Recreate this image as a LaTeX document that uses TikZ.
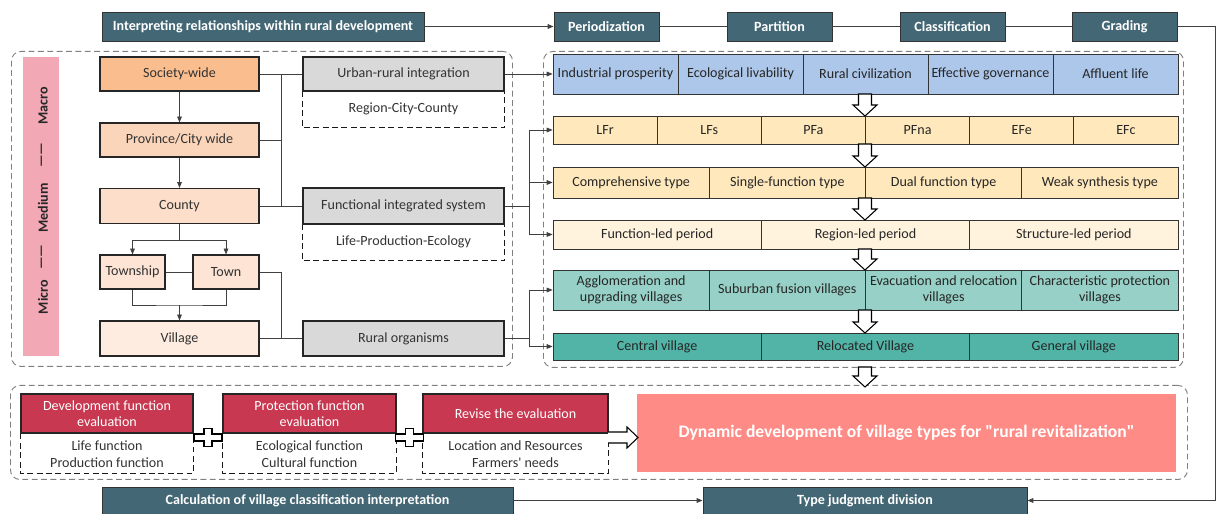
\documentclass[tikz,border=0pt]{standalone}
\usepackage{fontspec}
\setmainfont{Carlito}[Ligatures=TeXOff]
\usetikzlibrary{arrows.meta,positioning,calc}

\definecolor{hdrcol}{RGB}{68,103,117}
\definecolor{socfill}{RGB}{249,189,142}
\definecolor{provfill}{RGB}{251,213,185}
\definecolor{cntyfill}{RGB}{252,222,202}
\definecolor{twnfill}{RGB}{253,228,212}
\definecolor{villfill}{RGB}{254,236,225}
\definecolor{grayfill}{RGB}{217,217,217}
\definecolor{stripfill}{RGB}{242,168,181}
\definecolor{rowblue}{RGB}{172,199,234}
\definecolor{roworange}{RGB}{255,233,188}
\definecolor{rowcream}{RGB}{255,243,222}
\definecolor{rowteal}{RGB}{150,208,198}
\definecolor{rowdteal}{RGB}{82,180,166}
\definecolor{evalred}{RGB}{200,56,80}
\definecolor{salmon}{RGB}{255,139,134}

% hollow block arrow pointing down: x, y top, y tip
\newcommand{\downarr}[3]{%
  \draw[black, line width=0.9pt, fill=white] (#1-6.5,#2) -- (#1+6.5,#2) -- (#1+6.5,#3-11)
    -- (#1+12,#3-11) -- (#1,#3) -- (#1-12,#3-11) -- (#1-6.5,#3-11) -- cycle;}
% hollow plus sign: centre x, centre y
\newcommand{\plussign}[2]{%
  \draw[black, line width=1pt, fill=white] (#1-14,#2-3.5) -- (#1-4,#2-3.5) -- (#1-4,#2-9)
    -- (#1+4,#2-9) -- (#1+4,#2-3.5) -- (#1+14,#2-3.5) -- (#1+14,#2+3.5) -- (#1+4,#2+3.5)
    -- (#1+4,#2+9) -- (#1-4,#2+9) -- (#1-4,#2+3.5) -- (#1-14,#2+3.5) -- cycle;}

\begin{document}
\begin{tikzpicture}[x=0.03cm, y=-0.03cm,
  >={Triangle[length=5pt,width=4pt]},
  wh/.style 2 args={minimum width=#1*0.03cm, minimum height=#2*0.03cm},
  hdr/.style={draw=black!80, line width=0.8pt, fill=hdrcol, text=white, inner sep=0pt,
              font=\bfseries\fontsize{12}{14}\selectfont},
  lbox/.style={draw=black!85, line width=1pt, inner sep=0pt, align=center, text=black!80,
               font=\fontsize{12}{14}\selectfont},
  cell/.style={draw=black!80, line width=0.7pt, inner sep=0pt, align=center, text=black!85,
               font=\fontsize{12}{13.5}\selectfont},
  grp/.style={draw=black!50, line width=0.8pt, dash pattern=on 5pt off 3pt,
              rounded corners=8pt, inner sep=0pt},
  sub/.style={draw=black!90, line width=1.1pt, dash pattern=on 5pt off 3pt},
  txt/.style={inner sep=0pt, align=center, text=black!80, font=\fontsize{12}{14}\selectfont},
  lvl/.style={rotate=90, inner sep=0pt, text=black!85, font=\bfseries\fontsize{12}{13}\selectfont},
  link/.style={draw=black!75, line width=0.7pt}
]
  \useasboundingbox (0,0) rectangle (1218,514);

  % dashed groups
  \node[grp, wh={501}{315}, anchor=north west] (leftgrp)  at (11,51)  {};
  \node[grp, wh={640}{316}, anchor=north west] (rightgrp) at (543,51) {};
  \node[grp, wh={1177}{94}, anchor=north west] (botgrp)   at (10,385) {};

  % top row
  \node[hdr, wh={322}{29}] (interp) at (263,26.5)    {Interpreting relationships within rural development};
  \node[hdr, wh={105}{29}] (period) at (606.5,26.5)  {Periodization};
  \node[hdr, wh={105}{29}] (part)   at (779.5,26.5)  {Partition};
  \node[hdr, wh={105}{29}] (clas)   at (952.5,26.5)  {Classification};
  \node[hdr, wh={105}{29}] (grad)   at (1124.5,26.5) {Grading};

  % bottom row
  \node[hdr, wh={411}{27}] (calc)  at (307.5,500.5) {Calculation of village classification interpretation};
  \node[hdr, wh={324}{27}] (typej) at (865,500.5)   {Type judgment division};

  \draw[link,->] (interp) -- (period);
  \draw[link] (period) -- (part) (part) -- (clas) (clas) -- (grad);
  \coordinate (rt) at (1215,26.5);
  \draw[link,->] (grad.east) -- (rt) |- (typej.east);
  \draw[link,->] (calc) -- (typej);

  % level strip
  \node[fill=stripfill, wh={36}{299}] (strip) at (41,206.5) {};
  \node[lvl] (lvmacro) at (43,106) {Macro};
  \node[lvl] (lvd1)    at (43,155) {——};
  \node[lvl] (lvmed)   at (43,208) {Medium};
  \node[lvl] (lvd2)    at (43,257) {——};
  \node[lvl] (lvmicro) at (43,297) {Micro};

  % spatial scales
  \node[lbox, fill=socfill,  wh={159}{34}] (soc)  at (179.5,74)  {Society-wide};
  \node[lbox, fill=provfill, wh={159}{34}] (prov) at (179.5,140) {Province/City wide};
  \node[lbox, fill=cntyfill, wh={159}{35}] (cnty) at (179.5,206) {County};
  \node[lbox, fill=twnfill,  wh={65}{34}]  (twp)  at (132.5,272) {Township};
  \node[lbox, fill=twnfill,  wh={66}{34}]  (town) at (226,272)   {Town};
  \node[lbox, fill=villfill, wh={159}{35}] (vill) at (179.5,338.5) {Village};

  \draw[link,->] (soc) -- (prov);
  \draw[link,->] (prov) -- (cnty);
  \coordinate (sp) at (179.5,240);
  \draw[link] (cnty.south) -- (sp);
  \draw[link,->] (sp) -| (twp.north);
  \draw[link,->] (sp) -| (town.north);
  \draw[link] (twp) -- (town);
  \coordinate (jn) at (179.5,305);
  \draw[link] (twp.south) |- (jn) -| (town.south);
  \draw[link,->] (jn) -- (vill.north);

  % systems
  \node[lbox, fill=grayfill, wh={201}{34}] (urb)   at (403.5,74)    {Urban-rural integration};
  \node[lbox, fill=grayfill, wh={201}{36}] (func)  at (403.5,206)   {Functional integrated system};
  \node[lbox, fill=grayfill, wh={201}{35}] (rural) at (403.5,338.5) {Rural organisms};
  \draw[sub] (urb.south west) -- ++(0,36) -| (urb.south east);
  \node[txt] (urbsub) at (403.5,109) {Region-City-County};
  \draw[sub] (func.south west) -- ++(0,36) -| (func.south east);
  \node[txt] (funcsub) at (403.5,242) {Life-Production-Ecology};

  \coordinate (bus) at (281,74);
  \draw[link] (soc.east) -- (urb.west);
  \draw[link] (prov.east) -- (prov.east -| bus);
  \draw[link] (bus) -- (bus |- cnty.east);
  \draw[link] (cnty.east) -- (func.west);
  \draw[link] (town.east) -| (bus |- vill.east);
  \draw[link] (vill.east) -- (rural.west);

  % rows on the right
  \foreach \t [count=\i] in {Industrial prosperity, Ecological livability, Rural civilization,
                            Effective governance, Affluent life}
    \node[cell, fill=rowblue, wh={125}{40}] (r1c\i) at ({553+125*(\i-0.5)},74) {\t};
  \foreach \t [count=\i] in {LFr, LFs, PFa, PFna, EFe, EFc}
    \node[cell, fill=roworange, wh={625/6}{28}] (r2c\i) at ({553+625/6*(\i-0.5)},130) {\t};
  \foreach \t [count=\i] in {Comprehensive type, Single-function type, Dual function type,
                            Weak synthesis type}
    \node[cell, fill=roworange, wh={156.25}{31}] (r3c\i) at ({553+156.25*(\i-0.5)},182.5) {\t};
  \foreach \t [count=\i] in {Function-led period, Region-led period, Structure-led period}
    \node[cell, fill=rowcream, wh={625/3}{29}] (r4c\i) at ({553+625/3*(\i-0.5)},234.5) {\t};
  \foreach \t [count=\i] in {{Agglomeration and\\upgrading villages}, Suburban fusion villages,
                            {Evacuation and relocation\\villages}, {Characteristic protection\\villages}}
    \node[cell, fill=rowteal, wh={156.25}{40}] (r5c\i) at ({553+156.25*(\i-0.5)},290) {\t};
  \foreach \t [count=\i] in {Central village, Relocated Village, General village}
    \node[cell, fill=rowdteal, wh={625/3}{27}] (r6c\i) at ({553+625/3*(\i-0.5)},346.5) {\t};

  \draw[link,->] (urb.east) -- (r1c1.west);
  \coordinate (bus2) at (529,206);
  \draw[link] (func.east) -- (bus2);
  \draw[link] (bus2 |- r2c1.west) -- (bus2 |- r4c1.west);
  \draw[link,->] (bus2 |- r2c1.west) -- (r2c1.west);
  \draw[link,->] (bus2 |- r3c1.west) -- (r3c1.west);
  \draw[link,->] (bus2 |- r4c1.west) -- (r4c1.west);
  \draw[link] (rural.east) -- (rural.east -| bus2);
  \draw[link] (bus2 |- r5c1.west) -- (bus2 |- r6c1.west);
  \draw[link,->] (bus2 |- r5c1.west) -- (r5c1.west);
  \draw[link,->] (bus2 |- r6c1.west) -- (r6c1.west);

  \downarr{865}{94}{116}
  \downarr{865}{144}{167}
  \downarr{865}{198}{220}
  \downarr{865}{249}{270}
  \downarr{865}{310}{333}
  \downarr{865}{367}{387}

  % evaluation
  \node[lbox, fill=evalred, text=white, wh={172}{39}] (deve) at (107,413.5)   {Development function\\evaluation};
  \node[lbox, fill=evalred, text=white, wh={173}{39}] (prot) at (309.5,413.5) {Protection function\\evaluation};
  \node[lbox, fill=evalred, text=white, wh={185}{39}] (revi) at (515.5,413.5) {Revise the evaluation};
  \draw[sub] (deve.south west) -- ++(0,40) -| (deve.south east);
  \draw[sub] (prot.south west) -- ++(0,40) -| (prot.south east);
  \draw[sub] (revi.south west) -- ++(0,40) -| (revi.south east);
  \node[txt] (devtxt)  at (107,454)   {Life function\\Production function};
  \node[txt] (prottxt) at (309.5,454) {Ecological function\\Cultural function};
  \node[txt] (revtxt)  at (515.5,454) {Location and Resources\\Farmers' needs};
  \plussign{208}{437.5}
  \plussign{409.5}{437.5}

  \node[fill=salmon, text=white, inner sep=0pt, wh={539}{78},
        font=\bfseries\fontsize{15}{17}\selectfont] (dyn) at (906.5,433)
        {Dynamic development of village types for "rural revitalization"};
  \draw[black, line width=0.9pt, fill=white] (608,432) -- (627,432) -- (627,427) -- (638,437.5)
    -- (627,448) -- (627,443) -- (608,443);
\end{tikzpicture}
\end{document}
